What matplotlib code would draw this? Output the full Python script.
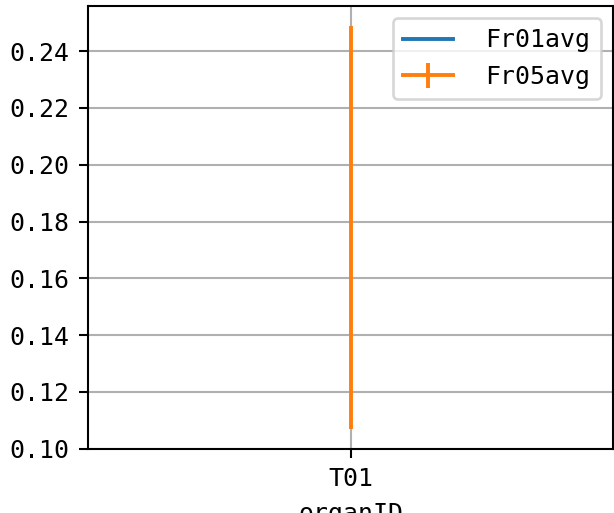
import matplotlib
matplotlib.use("Agg")
from matplotlib import pyplot as plt

# data
organs = ["T01"]
fr01avg = [0.178]
fr05avg = [0.1779]
fr05err = [0.0709]

plt.rcParams['font.family'] = ['DejaVu Sans Mono']
plt.rcParams['font.size'] = 9.6

dpi = 187
fig = plt.figure(figsize=(614 / dpi, 513 / dpi), dpi=dpi)
ax = fig.add_axes([0.1433, 0.1248, 0.8551, 0.8635])

ax.plot(organs, fr01avg, label="Fr01avg")
ax.errorbar(organs, fr05avg, yerr=fr05err, label="Fr05avg")

ax.grid(True)
ax.set_xlabel("organID")
ax.legend(loc="upper right", handletextpad=1.3)

fig.savefig("out.png", dpi=dpi)
